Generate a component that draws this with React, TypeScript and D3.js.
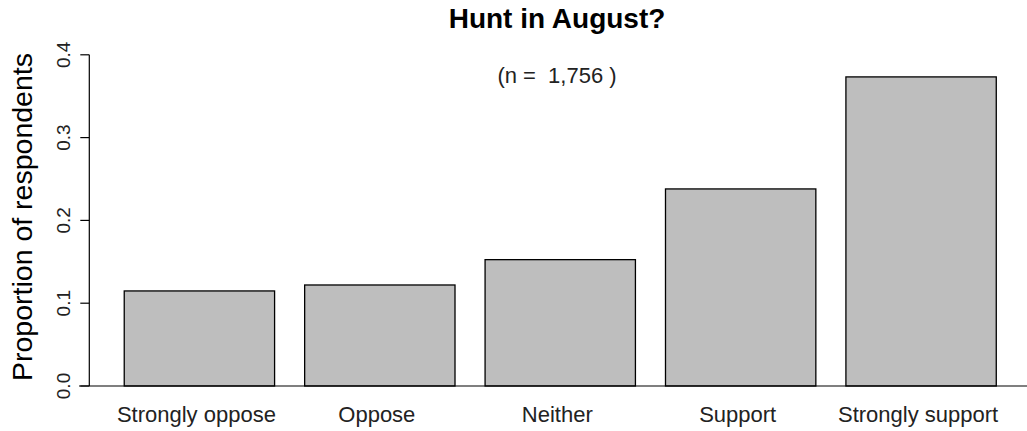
import React from "react";
import * as d3 from "d3";

const categories = ["Strongly oppose", "Oppose", "Neither", "Support", "Strongly support"];
const proportions = [0.1148, 0.122, 0.1526, 0.238, 0.3733];
const yTicks = [0, 0.1, 0.2, 0.3, 0.4];
const title = "Hunt in August?";
const sampleNote = "(n =  1,756 )";
const yTitle = "Proportion of respondents";

const W = 1027;
const H = 431;
const FONT = "'Liberation Sans', Arial, Helvetica, sans-serif";

export default function App() {
  const x = d3
    .scaleBand<string>()
    .domain(categories)
    .range([109.2, 1011.3])
    .paddingInner(0.2 / 1.2)
    .paddingOuter(0.1 / 1.2);
  const y = d3.scaleLinear().domain([0, 0.4]).range([386, 54.8]);
  const axisX = 89.3;
  const fmt = d3.format(".1f");

  return (
    <svg
      width={W}
      height={H}
      style={{ position: "absolute", left: 0, top: 0, background: "#fff" }}
      fontFamily={FONT}
    >
      <rect x={0} y={0} width={W} height={H} fill="#fff" />
      {/* bars */}
      {categories.map((c, i) => (
        <rect
          key={c}
          x={x(c)}
          y={y(proportions[i])}
          width={x.bandwidth()}
          height={y(0) - y(proportions[i])}
          fill="#bebebe"
          stroke="#000"
          strokeWidth={1.3}
        />
      ))}
      {/* baseline */}
      <line x1={79} x2={W} y1={y(0)} y2={y(0)} stroke="#000" strokeWidth={1.2} />
      {/* y axis */}
      <line x1={axisX} x2={axisX} y1={y(0)} y2={y(0.4)} stroke="#000" strokeWidth={1.2} />
      {yTicks.map((t) => (
        <g key={t}>
          <line x1={axisX - 9} x2={axisX} y1={y(t)} y2={y(t)} stroke="#000" strokeWidth={1.2} />
          <text
            transform={`translate(${70},${y(t)}) rotate(-90)`}
            textAnchor="middle"
            fontSize={19}
            fill="#222"
          >
            {fmt(t)}
          </text>
        </g>
      ))}
      {/* x labels */}
      {categories.map((c) => (
        <text
          key={c}
          x={(x(c) as number) + x.bandwidth() / 2 - 3}
          y={422}
          textAnchor="middle"
          fontSize={22}
          fill="#222"
        >
          {c}
        </text>
      ))}
      {/* y title */}
      <text
        transform={`translate(${32},${217}) rotate(-90)`}
        textAnchor="middle"
        fontSize={28.5}
        fill="#000"
      >
        {yTitle}
      </text>
      {/* title */}
      <text x={557} y={28} textAnchor="middle" fontSize={28} fontWeight="bold" fill="#000">
        {title}
      </text>
      <text
        x={557}
        y={83}
        textAnchor="middle"
        fontSize={22}
        fill="#222"
        style={{ whiteSpace: "pre" }}
      >
        {sampleNote}
      </text>
    </svg>
  );
}
